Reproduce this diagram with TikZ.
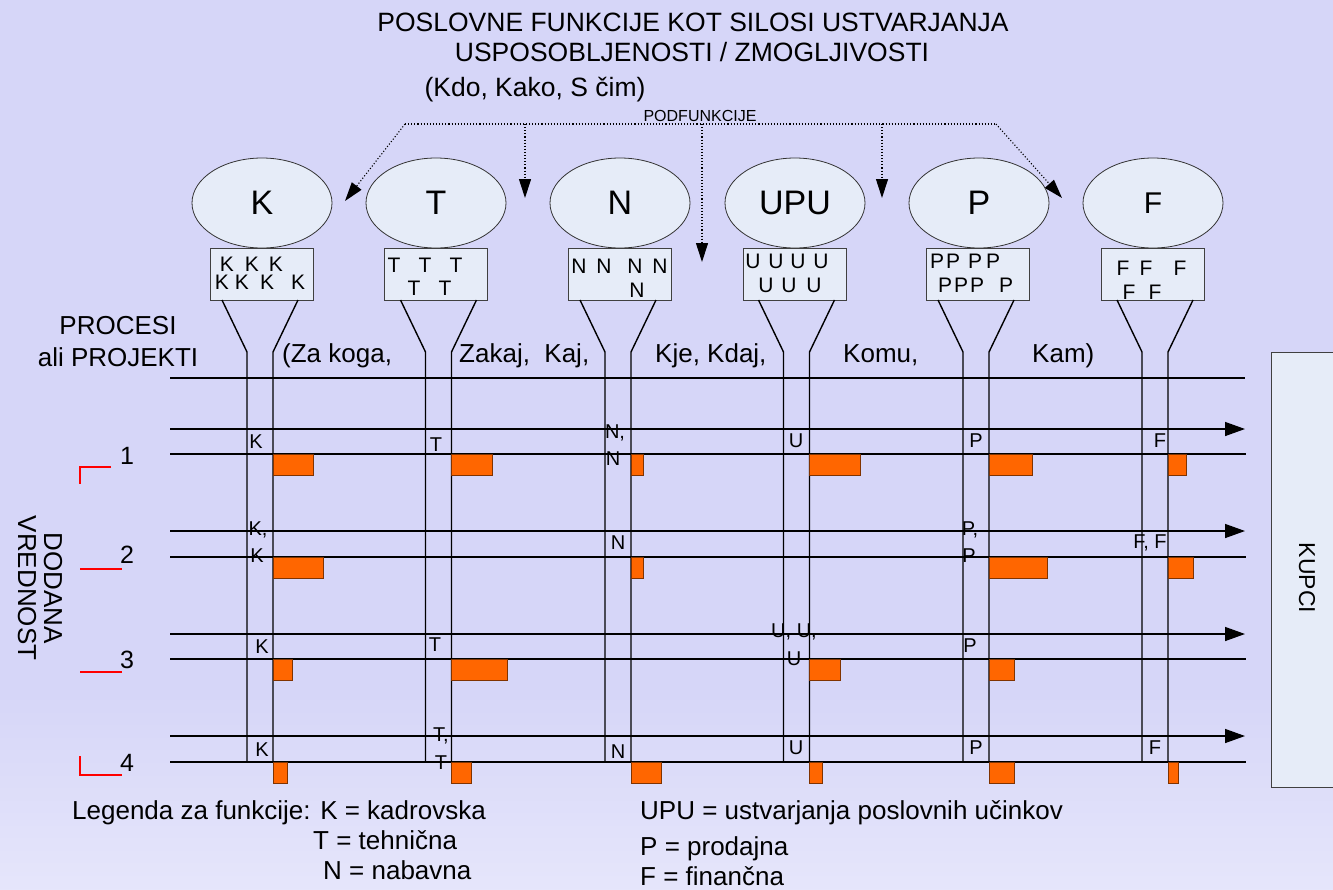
\documentclass[tikz,border=0pt]{standalone}
\usepackage{fontspec}
\setmainfont{Liberation Sans}
\usetikzlibrary{arrows.meta,shapes.geometric,calc}
\newcommand\fsz[1]{\fontsize{#1}{#1}\selectfont}
\definecolor{bgA}{RGB}{214,214,248}
\definecolor{bgB}{RGB}{231,231,251}
\definecolor{boxfill}{RGB}{230,236,248}
\definecolor{orng}{RGB}{255,102,0}
\pgfdeclareverticalshading{bgsh}{100bp}{color(0bp)=(bgA); color(10bp)=(bgA); color(24bp)=(bgB); color(36bp)=(bgA); color(80bp)=(bgA); color(92bp)=(bgB!60!bgA); color(100bp)=(bgA)}
\begin{document}
\begin{tikzpicture}[x=1pt,y=-1pt,
  ln/.style={line width=1.4pt, black},
  arr/.style={ln, -{Triangle[length=20pt,width=14pt]}},
  dotl/.style={dotted, line width=1.1pt, -{Triangle[length=19pt,width=12pt]}},
  fn/.style={ellipse, draw=black!80, line width=0.8pt, fill=boxfill, minimum width=140pt, minimum height=90pt, inner sep=0pt, font=\fsz{34}},
  sbox/.style={draw=black!75, line width=0.9pt, fill=boxfill, minimum width=103pt, minimum height=52pt, inner sep=0pt},
  bl/.style={font=\fsz{21}, inner sep=0pt},
  rl/.style={font=\fsz{20}, inner sep=0pt},
  bar/.style={draw=orng!50!black, line width=0.7pt, fill=orng},
  lab/.style={font=\fsz{26}, inner sep=0pt},
  redm/.style={red, line width=1.5pt}
]
\useasboundingbox (0,0) rectangle (1333,889);
\shade[shading=bgsh] (0,0) rectangle (1333,889);

% title
\node[lab, font=\fsz{26.5}, anchor=base] (t1) at (693,31) {POSLOVNE FUNKCIJE KOT SILOSI USTVARJANJA};
\node[lab, font=\fsz{26.5}, anchor=base] (t2) at (692,61) {USPOSOBLJENOSTI / ZMOGLJIVOSTI};
\node[lab, font=\fsz{26.5}, anchor=base] (t3) at (535,96) {(Kdo, Kako, S čim)};
\node[font=\fsz{16}, inner sep=0pt, anchor=base] (pod) at (700,121) {PODFUNKCIJE};

% dotted arrows
\coordinate (d0) at (405,124);
\coordinate (d5) at (996,124);
\coordinate (a1) at (345,201);
\coordinate (a2) at (525,198);
\coordinate (a3) at (702,262);
\coordinate (a4) at (882,198);
\coordinate (a5) at (1062,198);
\draw[dotted, line width=1.1pt] (d0) -- (d5);
\draw[dotl] (d0) -- (a1);
\draw[dotl] (a2 |- d0) -- (a2);
\draw[dotl] (a3 |- d0) -- (a3);
\draw[dotl] (a4 |- d0) -- (a4);
\draw[dotl] (d5) -- (a5);

% function ellipses
\node[fn] (eK) at (262,203) {K};
\node[fn] (eT) at (436,203) {T};
\node[fn] (eN) at (620,203) {N};
\node[fn] (eU) at (795,203) {UPU};
\node[fn] (eP) at (979,203) {P};
\node[fn, font=\fsz{30}] (eF) at (1153,203) {F};

% sub-function boxes
\node[sbox] (bK) at (262,274) {};
\node[sbox] (bT) at (436,274) {};
\node[sbox] (bN) at (620,274) {};
\node[sbox] (bU) at (795,274) {};
\node[sbox] (bP) at (978,274) {};
\node[sbox] (bF) at (1153,274) {};

\foreach \x/\y in {227/264,252/264,276/264,222/282,242/282,267/282,298/282}
  \node[bl] (lk\x-\y) at (\x,\y) {K};
\foreach \x/\y in {394/265,425/265,456/265,414/288,445/288}
  \node[bl] (lt\x-\y) at (\x,\y) {T};
\foreach \x/\y in {579/266,604/266,635/266,660/266,637/290}
  \node[bl] (ln\x-\y) at (\x,\y) {N};
\foreach \x/\y in {753/261,776/261,798/261,821/261,766/285,789/285,814/285}
  \node[bl] (lu\x-\y) at (\x,\y) {U};
\foreach \x/\y in {937/261,953/261,975/261,993/261,945/285,961/285,977/285,1006/285}
  \node[bl] (lp\x-\y) at (\x,\y) {P};
\foreach \x/\y in {1123/268,1146/268,1180/268,1129/292,1155/292}
  \node[bl] (lf\x-\y) at (\x,\y) {F};

% funnels and vertical channels
\foreach \v in {260,438.5,618,796.5,976,1155}{
  \draw[ln] ({\v-38},300) -- ({\v-13},352) -- ({\v-13},762);
  \draw[ln] ({\v+38},300) -- ({\v+13},352) -- ({\v+13},762);
}

% horizontal process lines
\draw[ln] (170,378) -- (1245,378);
\foreach \a/\b in {429/454,531/557,634/659,736/762}{
  \draw[arr] (170,\a) -- (1245,\a);
  \draw[ln] (170,\b) -- (1246,\b);
}

% value-added bars
\foreach \y/\xa/\xb in {454/273/313,454/451/492,454/631/643,454/809/860,454/989/1032,454/1168/1186,
  557/273/323,557/631/643,557/989/1047,557/1168/1193,
  659/273/292,659/451/507,659/809/840,659/989/1014,
  762/273/287,762/451/471,762/631/661,762/809/822,762/989/1014,762/1168/1178}
  \draw[bar] (\xa,\y) rectangle (\xb,{\y+21});

% letters in rows
\node[rl] (r1k) at (256,442) {K};
\node[rl] (r1t) at (436,445) {T};
\node[rl] (r1n1) at (615,433) {N,};
\node[rl] (r1n2) at (613,459) {N};
\node[rl] (r1u) at (796,441) {U};
\node[rl] (r1p) at (976,441) {P};
\node[rl] (r1f) at (1160,441) {F};

\node[rl] (r2k1) at (258,530) {K,};
\node[rl] (r2k2) at (257,556) {K};
\node[rl] (r2n) at (618,543) {N};
\node[rl] (r2p1) at (970,530) {P,};
\node[rl] (r2p2) at (969,556) {P};
\node[rl] (r2f) at (1150,543) {F, F};

\node[rl] (r3k) at (262,647) {K};
\node[rl] (r3t) at (435,645) {T};
\node[rl] (r3u1) at (794,632) {U, U,};
\node[rl] (r3u2) at (794,659) {U};
\node[rl] (r3p) at (970,646) {P};

\node[rl] (r4k) at (262,750) {K};
\node[rl] (r4t1) at (441,736) {T,};
\node[rl] (r4t2) at (441,763) {T};
\node[rl] (r4n) at (618,752) {N};
\node[rl] (r4u) at (796,748) {U};
\node[rl] (r4p) at (976,748) {P};
\node[rl] (r4f) at (1155,748) {F};

% column questions
\node[lab, anchor=base west] (q1) at (282,362) {(Za koga,};
\node[lab, anchor=base west] (q2) at (459,362) {Zakaj,\ \ Kaj,};
\node[lab, anchor=base west] (q3) at (655,362) {Kje, Kdaj,};
\node[lab, anchor=base west] (q4) at (843,362) {Komu,};
\node[lab, anchor=base west] (q5) at (1032,362) {Kam)};

% left side
\node[lab, anchor=base] (pr1) at (118,334) {PROCESI};
\node[lab, anchor=base] (pr2) at (118,366) {ali PROJEKTI};
\node[lab, font=\fsz{25}] (n1) at (127,456) {1};
\node[lab, font=\fsz{25}] (n2) at (127,555) {2};
\node[lab, font=\fsz{25}] (n3) at (127,660) {3};
\node[lab, font=\fsz{25}] (n4) at (127,763) {4};
\draw[redm] (111,467) -- (80,467) -- (80,484);
\draw[redm] (80,569) -- (122,569);
\draw[redm] (80,672) -- (122,672);
\draw[redm] (80,756) -- (80,775) -- (122,775);
\node[font=\fsz{26}, inner sep=0pt, align=center, rotate=-90] (dv) at (40,588) {\fontsize{26}{32}\selectfont DODANA\\VREDNOST};

% customers
\node[draw=black!75, line width=0.9pt, fill=boxfill, anchor=north west, minimum width=90pt, minimum height=435pt, inner sep=0pt] (kup) at (1271,352) {};
\node[font=\fsz{23}, inner sep=0pt, rotate=-90] (kupt) at (1307,578) {KUPCI};

% legend
\node[lab, anchor=base west] (lg1) at (72,819) {Legenda za funkcije: K = kadrovska};
\node[lab, anchor=base west] (lg2) at (313,849) {T = tehnična};
\node[lab, anchor=base west] (lg3) at (323,879) {N = nabavna};
\node[lab, anchor=base west] (lg4) at (640,819) {UPU = ustvarjanja poslovnih učinkov};
\node[lab, anchor=base west] (lg5) at (640,855) {P = prodajna};
\node[lab, anchor=base west] (lg6) at (640,885) {F = finančna};
\end{tikzpicture}
\end{document}
